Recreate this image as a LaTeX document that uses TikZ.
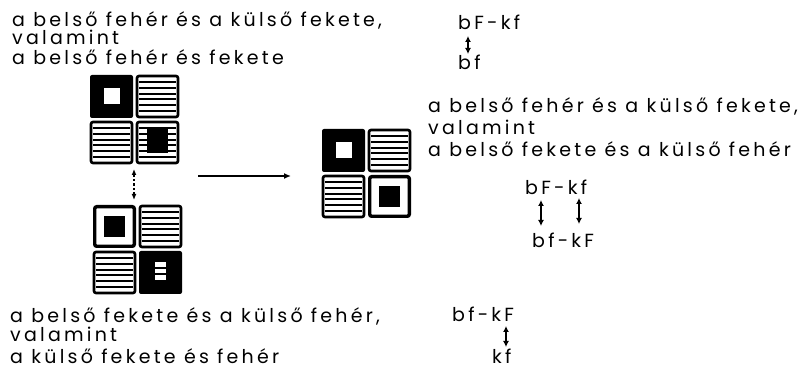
\documentclass[tikz,border=0pt]{standalone}
\usepackage{fontspec}
\setmainfont{Poppins}[LetterSpace=17]
\usetikzlibrary{arrows.meta,calc}
\begin{document}
\begin{tikzpicture}[x=1pt,y=-1pt,
  txt/.style={anchor=base west,inner sep=0pt,font=\fontsize{19}{19}\selectfont},
  tileborder/.style={line width=2.6pt,rounded corners=2pt},
  hatchline/.style={line width=2pt},
  dbl/.style={{Latex[length=6pt,width=6pt]}-{Latex[length=6pt,width=6pt]},line width=2pt},
  pics/hatch/.style={code={
    \draw[tileborder] (1,1) rectangle (42,42);
    \foreach \k in {1,...,6} \draw[hatchline] (3,{1+5.86*\k}) -- (40,{1+5.86*\k});
  }},
  pics/blackwhite/.style={code={
    \fill[rounded corners=2pt] (0,0) rectangle (43,43);
    \fill[white] (13.5,13.5) rectangle (29.5,29.5);
  }},
  pics/hatchblack/.style={code={
    \pic {hatch};
    \fill (11,8) rectangle (32,32);
  }},
  pics/whiteblack/.style={code={
    \draw[line width=3.4pt,rounded corners=2pt] (1.7,1.7) rectangle (41.3,41.3);
    \fill (11,11) rectangle (32,32);
  }},
  pics/blackhatch/.style={code={
    \fill[rounded corners=2pt] (0,0) rectangle (43,43);
    \fill[white] (16,11) rectangle (27,29);
    \draw[line width=2pt] (16,17) -- (27,17) (16,23) -- (27,23);
  }}
]
\useasboundingbox (0,0) rectangle (807,371);

% top-left text
\node[txt] (t1) at (12,27) {a belső fehér és a külső fekete\,,};
\node[txt] (t2) at (12,45) {valamint};
\node[txt] (t3) at (12,65) {a belső fehér és fekete};

% top-right labels
\node[txt] (r1) at (458,30) {bF-kf};
\node[txt] (r2) at (458,70) {bf};
\coordinate (r1a) at (468,36);
\coordinate (r2a) at (468,54);
\draw[dbl] (r1a) -- (r2a);

% top group
\pic at (90,75) {blackwhite};
\pic at (136,75) {hatch};
\pic at (90,121) {hatch};
\pic at (136,121) {hatchblack};

% bottom group
\pic at (93,205) {whiteblack};
\pic at (139,205) {hatch};
\pic at (93,251) {hatch};
\pic at (139,251) {blackhatch};

% dashed vertical arrow
\coordinate (va) at (134,169);
\coordinate (vb) at (134,200);
\draw[{Latex[length=6pt,width=5pt]}-{Latex[length=6pt,width=5pt]},line width=1.3pt,dash pattern=on 2.5pt off 2pt] (va) -- (vb);

% horizontal arrow
\coordinate (ha) at (198,176);
\coordinate (hb) at (291,176);
\draw[-{Latex[length=7pt,width=6pt]},line width=1.4pt] (ha) -- (hb);

% middle group
\pic at (322,129) {blackwhite};
\pic at (368,129) {hatch};
\pic at (322,175) {hatch};
\pic at (368,175) {whiteblack};

% right text
\node[txt] (m1) at (428,113) {a belső fehér és a külső fekete,};
\node[txt] (m2) at (428,135) {valamint};
\node[txt] (m3) at (428,157) {a belső fekete és a külső fehér};

\node[txt] (p1) at (525,195) {bF-kf};
\node[txt] (p2) at (532,248) {bf-kF};
\coordinate (p1a) at (541,200);
\coordinate (p2a) at (541,226);
\coordinate (p1b) at (579,198);
\coordinate (p2b) at (579,224);
\draw[dbl] (p1a) -- (p2a);
\draw[dbl] (p1b) -- (p2b);

% bottom-left text
\node[txt] (b1) at (10,323) {a belső fekete és a külső fehér,};
\node[txt] (b2) at (10,342) {valamint};
\node[txt] (b3) at (10,364) {a külső fekete és fehér};

\node[txt] (q1) at (452,322) {bf-kF};
\node[txt] (q2) at (492,364) {kf};
\coordinate (q1a) at (506,326);
\coordinate (q2a) at (506,347);
\draw[dbl] (q1a) -- (q2a);
\end{tikzpicture}
\end{document}
